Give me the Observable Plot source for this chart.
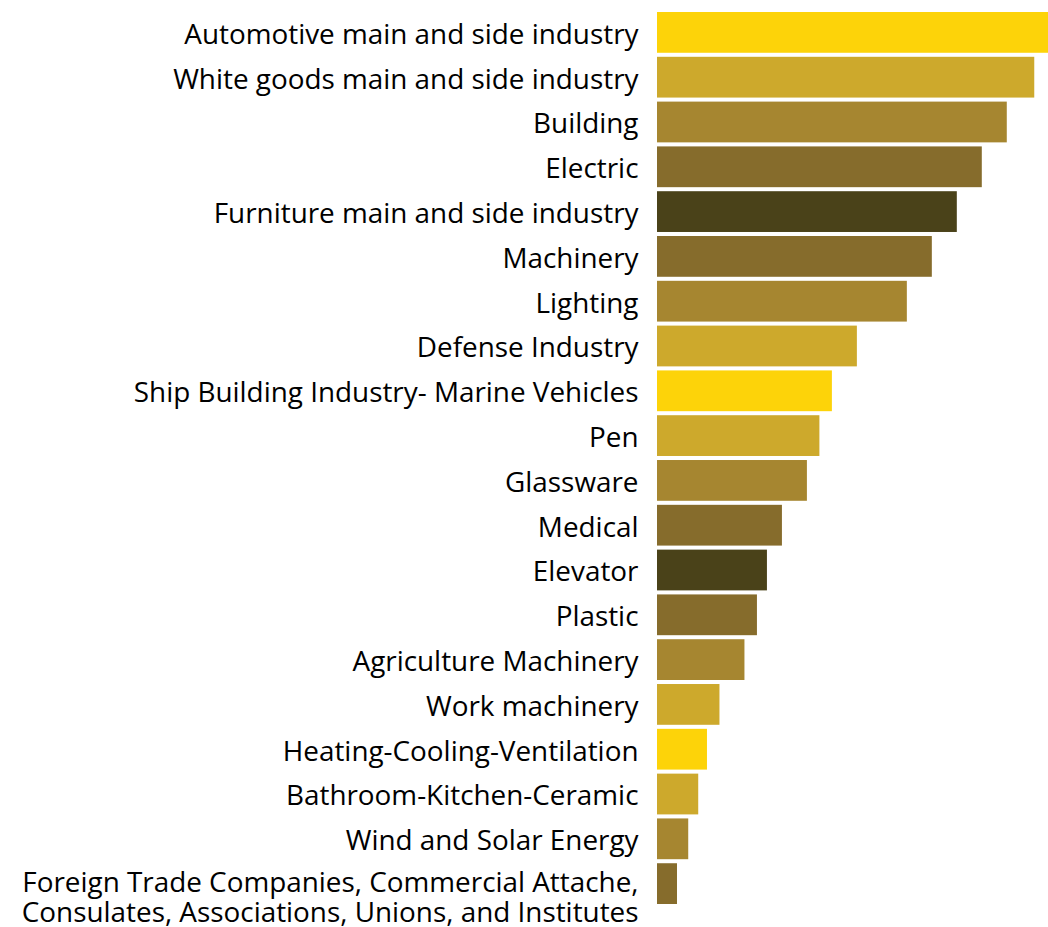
<!DOCTYPE html>
<html>
<head>
<meta charset="utf-8">
<script src="https://cdn.jsdelivr.net/npm/d3@7"></script>
<script src="https://cdn.jsdelivr.net/npm/@observablehq/plot@0.6"></script>
<style>
  html, body { margin: 0; padding: 0; background: #fff; }
  #chart svg { display: block; }
</style>
</head>
<body>
<div id="chart"></div>
<script>
const categories = [
  "Automotive main and side industry",
  "White goods main and side industry",
  "Building",
  "Electric",
  "Furniture main and side industry",
  "Machinery",
  "Lighting",
  "Defense Industry",
  "Ship Building Industry- Marine Vehicles",
  "Pen",
  "Glassware",
  "Medical",
  "Elevator",
  "Plastic",
  "Agriculture Machinery",
  "Work machinery",
  "Heating-Cooling-Ventilation",
  "Bathroom-Kitchen-Ceramic",
  "Wind and Solar Energy",
  "Foreign Trade Companies, Commercial Attache,\nConsulates, Associations, Unions, and Institutes"
];
const values = [31.3, 30.2, 28, 26, 24, 22, 20, 16, 14, 13, 12, 10, 8.8, 8, 7, 5, 4, 3.3, 2.5, 1.6];
const palette = ["#FDD309", "#CDA92C", "#A68630", "#866C2C", "#4A4219"];
const colorIndex = [0, 1, 2, 3, 4, 3, 2, 1, 0, 1, 2, 3, 4, 3, 2, 1, 0, 1, 2, 3];

const data = categories.map((c, i) => ({category: c, value: values[i], color: palette[colorIndex[i]]}));
const FONT = "'Open Sans', Lato, sans-serif";

// fit label font size so the reference's longest single-line label spans ~505px
const ctx = document.createElement("canvas").getContext("2d");
ctx.font = `100px ${FONT}`;
const w100 = ctx.measureText("Ship Building Industry- Marine Vehicles").width;
const fontSize = Math.max(20, Math.min(30, 505 / w100 * 100));

const chart = Plot.plot({
  width: 1048,
  height: 927,
  marginLeft: 657,
  marginRight: 0,
  marginTop: 12,
  marginBottom: 23,
  style: {fontFamily: FONT, background: "#fff"},
  x: {domain: [0, 31.3], axis: null},
  y: {domain: categories, paddingInner: 0.09, paddingOuter: 0, round: false, axis: null},
  marks: [
    Plot.barX(data, {y: "category", x: "value", fill: "color"}),
    Plot.text(data.filter(d => !d.category.includes("\n")), {
      y: "category", x: 0, text: "category", textAnchor: "end", dx: -19, dy: 2,
      fontSize, fill: "#000", lineAnchor: "middle"
    }),
    Plot.text(data.filter(d => d.category.includes("\n")), {
      y: "category", x: 0, text: "category", textAnchor: "end", dx: -19, dy: 13,
      fontSize, fill: "#000", lineAnchor: "middle", lineHeight: 1.1
    })
  ]
});
document.getElementById("chart").appendChild(chart);
</script>
</body>
</html>
